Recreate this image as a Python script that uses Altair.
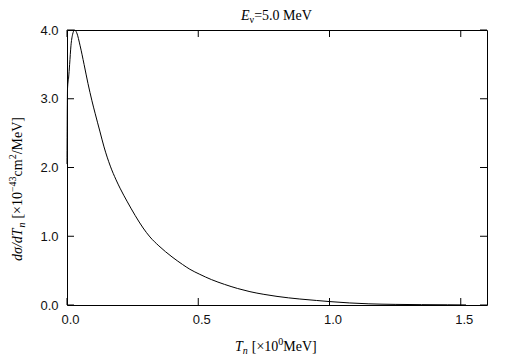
import altair as alt
import pandas as pd

# curve
T_n = [0.0, 0.002, 0.006, 0.010, 0.015, 0.021, 0.029, 0.037, 0.05, 0.065, 0.080,
       0.095, 0.107, 0.125, 0.141, 0.165, 0.187, 0.202, 0.23, 0.26, 0.29, 0.316,
       0.35, 0.40, 0.44, 0.468, 0.506, 0.55, 0.60, 0.65, 0.697, 0.75, 0.80, 0.887,
       0.95, 1.0, 1.077, 1.15, 1.25, 1.35, 1.45, 1.52]
dsig = [2.05, 3.15, 3.30, 3.50, 3.77, 3.93, 4.00, 3.96, 3.77, 3.50, 3.22,
        2.97, 2.79, 2.53, 2.30, 2.02, 1.82, 1.70, 1.50, 1.30, 1.12, 0.99,
        0.86, 0.70, 0.59, 0.52, 0.446, 0.37, 0.30, 0.24, 0.194, 0.155, 0.125, 0.087,
        0.066, 0.05, 0.03, 0.017, 0.009, 0.005, 0.003, 0.001]

x_ticks = [0.0, 0.5, 1.0, 1.5]
y_ticks = [0.0, 1.0, 2.0, 3.0, 4.0]

# text pieces: (text, size, italic, kind, gap before in px)  kind: n=normal, sub, sup
title_parts = [("E", 14, True, "n", 0), ("ν", 10, False, "sub", 0),
               ("=5.0 MeV", 14, False, "n", 0)]
x_title_parts = [("T", 14, True, "n", 0), ("n", 10, True, "sub", 0), ("[×10", 14, False, "n", 4),
                 ("0", 10, False, "sup", 0), ("MeV]", 14, False, "n", 0)]
y_title_parts = [("dσ/dT", 14, True, "n", 0), ("n", 10, True, "sub", 0), ("[×10", 14, False, "n", 4),
                 ("−43", 10, False, "sup", 0), ("cm", 14, False, "n", 0), ("2", 10, False, "sup", 0),
                 ("/MeV]", 14, False, "n", 0)]

W, H = 420, 275

df = pd.DataFrame({"T": T_n, "v": dsig})
xt = pd.DataFrame({"T": x_ticks})
yt = pd.DataFrame({"v": y_ticks})

xs = alt.Scale(domain=[0, 1.6], nice=False)
ys = alt.Scale(domain=[0, 4], nice=False)

x_axis = alt.Axis(values=x_ticks, format=".1f", ticks=False, domain=False, grid=False,
                  labelFont="Liberation Sans", labelFontSize=13, labelColor="#111",
                  labelPadding=8, labelFlush=False, labelOffset=3, title=None)
y_axis = alt.Axis(values=y_ticks, format=".1f", ticks=False, domain=False, grid=False,
                  labelFont="Liberation Sans", labelFontSize=13, labelColor="#111",
                  labelPadding=9, labelFlush=False, title=None)

line = alt.Chart(df).mark_line(color="black", strokeWidth=1, interpolate="monotone").encode(
    x=alt.X("T:Q", scale=xs, axis=x_axis),
    y=alt.Y("v:Q", scale=ys, axis=y_axis),
)

tick_len = 7
xt_bottom = alt.Chart(xt).mark_rule(color="black", strokeWidth=1).encode(
    x=alt.X("T:Q", scale=xs, axis=x_axis), y=alt.value(H), y2=alt.value(H - tick_len))
xt_top = alt.Chart(xt).mark_rule(color="black", strokeWidth=1).encode(
    x=alt.X("T:Q", scale=xs, axis=x_axis), y=alt.value(0), y2=alt.value(tick_len))
yt_left = alt.Chart(yt).mark_rule(color="black", strokeWidth=1).encode(
    y=alt.Y("v:Q", scale=ys, axis=y_axis), x=alt.value(0), x2=alt.value(tick_len))
yt_right = alt.Chart(yt).mark_rule(color="black", strokeWidth=1).encode(
    y=alt.Y("v:Q", scale=ys, axis=y_axis), x=alt.value(W), x2=alt.value(W - tick_len))


def em_width(s, size):
    # approximate Times advance widths (em units)
    w = {"E": 0.611, "T": 0.556, "M": 0.889, "V": 0.722, "e": 0.444, "n": 0.5,
         "c": 0.444, "m": 0.778, "d": 0.5, "σ": 0.55, "ν": 0.46, "/": 0.278,
         " ": 0.25, "[": 0.333, "]": 0.333, "×": 0.564, "=": 0.564,
         ".": 0.25, "−": 0.564}
    return sum(w.get(ch, 0.5) for ch in s) * size


def pieces(parts, x0, y0, vertical=False):
    layers = []
    pos = 0.0
    for text, size, italic, kind, gap in parts:
        pos += gap
        shift = {"n": 0, "sub": 3, "sup": -6}[kind]
        if vertical:
            px, py, ang = x0 + shift, y0 - pos, 270
        else:
            px, py, ang = x0 + pos, y0 + shift, 0
        layers.append(
            alt.Chart(pd.DataFrame({"t": [text]})).mark_text(
                font="Liberation Serif", fontSize=size, color="black",
                fontStyle="italic" if italic else "normal",
                baseline="alphabetic", align="left", angle=ang,
            ).encode(text="t:N", x=alt.value(px), y=alt.value(py))
        )
        pos += em_width(text, size)
    return layers


texts = (pieces(title_parts, 174, -10.5)
         + pieces(x_title_parts, 168, 321)
         + pieces(y_title_parts, -45, 231, vertical=True))

chart = alt.layer(line, xt_bottom, xt_top, yt_left, yt_right, *texts).properties(
    width=W, height=H,
    autosize=alt.AutoSizeParams(type="none"),
    padding={"left": 59, "top": 22, "right": 10, "bottom": 56},
    background="white",
).configure_view(stroke="black", strokeWidth=1)

chart.save("out.html", embed_options={"renderer": "svg", "actions": False})
